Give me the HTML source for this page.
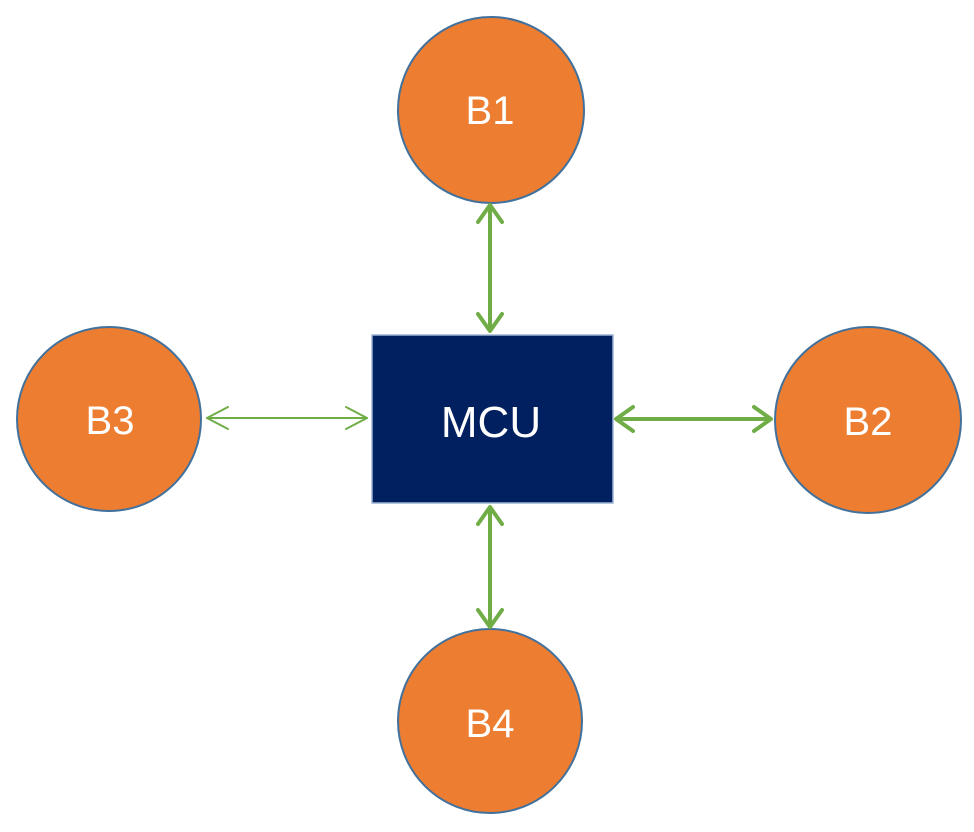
<!DOCTYPE html>
<html><head><style>body{margin:0;background:#fff}</style></head><body>
<svg width="974" height="832" xmlns="http://www.w3.org/2000/svg" style="display:block">
<g fill="#ED7D31" stroke="#41719C" stroke-width="2">
<circle cx="491" cy="110" r="93"/>
<circle cx="109" cy="419" r="92"/>
<circle cx="868" cy="420" r="93"/>
<circle cx="490" cy="721" r="92"/>
</g>
<rect x="372" y="335" width="241" height="168" fill="#002060" stroke="#9DB3D6" stroke-width="1.5"/>
<g fill="none" stroke="#70AD47" stroke-linecap="round" stroke-linejoin="round">
<g stroke-width="4">
<line x1="490" y1="206" x2="490" y2="330"/>
<polyline points="478,222 490,205 502,222"/>
<polyline points="478,314 490,331 502,314"/>
<line x1="490" y1="508" x2="490" y2="626"/>
<polyline points="478,524 490,507 502,524"/>
<polyline points="478,610 490,627 502,610"/>
<line x1="617" y1="419" x2="770" y2="419"/>
<polyline points="633,407 616,419 633,431"/>
<polyline points="754,407 771,419 754,431"/>
</g>
<g stroke-width="2">
<line x1="207" y1="418" x2="367" y2="418"/>
<polyline points="228,407 207,418 228,429"/>
<polyline points="346,407 367,418 346,429"/>
</g>
</g>
<g fill="#fff" font-family="Liberation Sans, sans-serif" font-size="40" text-anchor="middle">
<text x="490" y="124">B1</text>
<text x="110" y="434">B3</text>
<text x="868" y="435">B2</text>
<text x="490" y="737">B4</text>
<text x="491" y="437" font-size="44">MCU</text>
</g>
</svg>
</body></html>
